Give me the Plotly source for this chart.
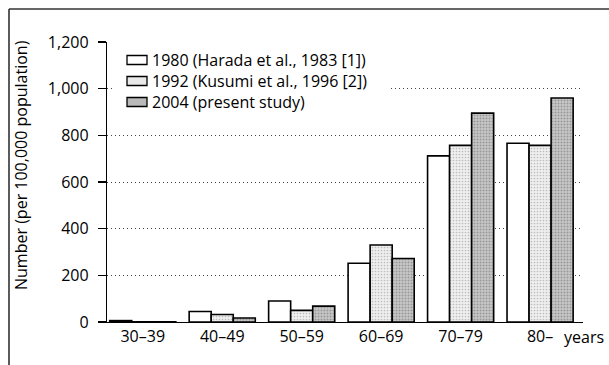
import plotly.graph_objects as go

categories = ["30–39", "40–49", "50–59", "60–69", "70–79", "80–"]
series_names = ["1980 (Harada et al., 1983 [1])",
                "1992 (Kusumi et al., 1996 [2])",
                "2004 (present study)"]
values_1980 = [6, 45, 90, 252, 712, 766]
values_1992 = [1, 32, 50, 330, 757, 757]
values_2004 = [1, 17, 68, 272, 895, 960]
y_ticks = [0, 200, 400, 600, 800, 1000, 1200]

FONT = "Open Sans"
FS = 16
L, R, T, B = 107, 26, 42, 43
W, H = 609, 365
PW, PH = W - L - R, H - T - B


def px(xp):
    return (xp - L) / PW


def py(yp):
    return (H - B - yp) / PH


fig = go.Figure()

fills = ["white", "#e9e9e9", "#b9b9b9"]
patterns = [
    None,
    dict(shape=".", fgcolor="#8a8a8a", bgcolor="#efefef", size=3, solidity=0.25),
    dict(shape=".", fgcolor="#666666", bgcolor="#c8c8c8", size=3, solidity=0.35),
]
for name, vals, col, pat in zip(series_names, [values_1980, values_1992, values_2004], fills, patterns):
    marker = dict(color=col, line=dict(color="black", width=1.6))
    if pat:
        marker["pattern"] = pat
    fig.add_trace(go.Bar(x=categories, y=vals, name=name, marker=marker, hoverinfo="skip"))

shapes = [
    # white box behind legend hiding gridlines
    dict(type="rect", xref="paper", yref="paper",
         x0=px(115), x1=px(391), y0=py(113), y1=py(50),
         fillcolor="white", line=dict(width=0), layer="above"),
]
annotations = []
row_y = [60, 81, 102]
for name, col, yc in zip(series_names, fills, row_y):
    shapes.append(dict(type="rect", xref="paper", yref="paper",
                       x0=px(127), x1=px(147), y0=py(yc + 4.5), y1=py(yc - 4.5),
                       fillcolor=col, line=dict(color="black", width=1.3), layer="above"))
    annotations.append(dict(text=name, xref="paper", yref="paper",
                            x=px(151), y=py(yc), xanchor="left", yanchor="middle",
                            borderpad=0, showarrow=False,
                            font=dict(family=FONT, size=16, color="black")))

# outer frame: top and left edges only (the rest lies outside the picture)
shapes.append(dict(type="line", xref="paper", yref="paper",
                   x0=px(9), x1=px(W + 5), y0=py(9), y1=py(9),
                   line=dict(color="#333", width=1.6), layer="above"))
shapes.append(dict(type="line", xref="paper", yref="paper",
                   x0=px(9), x1=px(9), y0=py(9), y1=py(H + 5),
                   line=dict(color="#333", width=1.6), layer="above"))

annotations += [
    dict(text="Number (per 100,000 population)", textangle=-90,
         xref="paper", yref="paper", x=px(21), y=py(165),
         xanchor="center", yanchor="middle", showarrow=False,
         font=dict(family=FONT, size=FS, color="black")),
    dict(text="years", xref="paper", yref="paper",
         x=px(562), y=py(337), xanchor="left", yanchor="middle",
         showarrow=False, font=dict(family=FONT, size=FS, color="black")),
]

fig.update_layout(
    width=W, height=H,
    margin=dict(l=L, r=R, t=T, b=B),
    paper_bgcolor="white", plot_bgcolor="white",
    barmode="group", bargap=0.168, bargroupgap=0,
    font=dict(family=FONT, size=FS, color="black"),
    showlegend=False,
    hovermode=False,
    xaxis=dict(type="category", range=[-0.45, 5.54], showgrid=False,
               showline=True, linecolor="black", linewidth=1.2,
               ticks="", tickfont=dict(size=FS), fixedrange=True),
    yaxis=dict(range=[0, 1200], tickvals=y_ticks, tickformat=",d",
               showgrid=True, gridcolor="#444", griddash="1px,3px", gridwidth=1,
               showline=True, linecolor="black", linewidth=1.2,
               ticks="outside", ticklen=8, tickcolor="black", tickwidth=1.2,
               ticklabelstandoff=6, fixedrange=True,
               tickfont=dict(size=FS), zeroline=False),
    annotations=annotations,
    shapes=shapes,
)

fig.write_html(
    "out.html",
    config={"displayModeBar": False, "staticPlot": True},
    post_script=("document.documentElement.style.overflow='hidden';"
                 "document.body.style.margin='0';"
                 "document.body.style.overflow='hidden';"),
)
